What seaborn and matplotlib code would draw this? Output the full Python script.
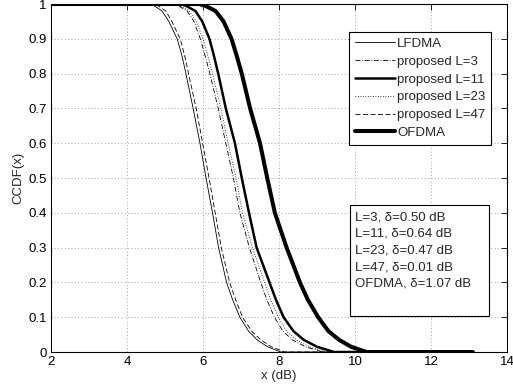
import numpy as np
import pandas as pd
import matplotlib
matplotlib.use("Agg")
import matplotlib.pyplot as plt
import seaborn as sns
from matplotlib.patches import Rectangle

ccdf = [1.0, 1.0, 0.995, 0.98, 0.95, 0.9, 0.85, 0.8, 0.7, 0.6, 0.5, 0.4, 0.3,
        0.2, 0.15, 0.1, 0.06, 0.035, 0.015, 0.0, 0.0]

lfdma  = [2.0, 4.60, 4.72, 4.92, 5.10, 5.32, 5.45, 5.55, 5.74, 5.92, 6.08, 6.25, 6.41,
          6.62, 6.78, 6.97, 7.20, 7.42, 7.70, 8.05, 13.1]
prop3  = [2.0, 5.20, 5.35, 5.58, 5.76, 5.93, 6.06, 6.18, 6.40, 6.60, 6.80, 6.97, 7.22,
          7.52, 7.68, 7.88, 8.10, 8.35, 8.70, 9.15, 13.1]
prop11 = [2.0, 5.40, 5.55, 5.80, 5.98, 6.17, 6.29, 6.40, 6.60, 6.84, 7.02, 7.21, 7.41,
          7.75, 7.92, 8.12, 8.38, 8.65, 9.00, 9.45, 13.1]
prop23 = [2.0, 5.25, 5.40, 5.64, 5.82, 6.00, 6.13, 6.25, 6.47, 6.66, 6.87, 7.04, 7.30,
          7.62, 7.78, 7.98, 8.20, 8.45, 8.80, 9.25, 13.1]
prop47 = [2.0, 4.70, 4.82, 5.02, 5.18, 5.40, 5.52, 5.62, 5.82, 5.99, 6.16, 6.32, 6.48,
          6.70, 6.86, 7.04, 7.28, 7.52, 7.80, 8.15, 13.1]
ofdma  = [2.0, 5.90, 6.06, 6.33, 6.54, 6.75, 6.89, 7.02, 7.24, 7.50, 7.69, 7.89, 8.20,
          8.55, 8.76, 9.03, 9.30, 9.58, 9.90, 10.3, 13.1]

labels = ['LFDMA', 'proposed L=3', 'proposed L=11', 'proposed L=23', 'proposed L=47', 'OFDMA']
series = [lfdma, prop3, prop11, prop23, prop47, ofdma]
styles = ['-', (0, (6, 2, 1, 2)), '-', (0, (1, 2)), (0, (6, 3)), '-']
widths = [0.6, 0.6, 1.8, 0.6, 0.6, 2.9]

notes = ['L=3, \u03b4=0.50 dB', 'L=11, \u03b4=0.64 dB', 'L=23, \u03b4=0.47 dB',
         'L=47, \u03b4=0.01 dB', 'OFDMA, \u03b4=1.07 dB']

sns.set_style('white')
plt.rcParams['font.family'] = ['Liberation Sans', 'DejaVu Sans']
fs = 9.5

fig = plt.figure(figsize=(5.13, 3.91), dpi=100)
ax = fig.add_axes([0.0994, 0.0997, 0.8890, 0.8900])

for lab, xs, ls, lw in zip(labels, series, styles, widths):
    df = pd.DataFrame({'x': xs, 'ccdf': ccdf})
    sns.lineplot(data=df, x='x', y='ccdf', sort=False, estimator=None, color='black',
                 linestyle=ls, linewidth=lw, label=lab, ax=ax)

ax.set_xlim(2, 14)
ax.set_ylim(0, 1)
ax.set_xticks(np.arange(2, 15, 2))
ax.set_yticks(np.arange(0, 1.01, 0.1))
ax.set_yticklabels(['0', '0.1', '0.2', '0.3', '0.4', '0.5', '0.6', '0.7', '0.8', '0.9', '1'])
ax.grid(True, linestyle=(0, (1, 3)), color='0.5', linewidth=0.6)
ax.tick_params(direction='in', length=4, width=0.6, top=True, right=True,
               labelsize=fs, pad=3, colors='black')
for s in ax.spines.values():
    s.set_color('black')
    s.set_linewidth(0.8)

ax.set_xlabel('x (dB)', fontsize=fs, labelpad=1)
ax.set_ylabel('CCDF(x)', fontsize=fs, labelpad=3)

leg = ax.legend(loc='upper right', bbox_to_anchor=(0.965, 0.92), fancybox=False,
                edgecolor='black', framealpha=1, fontsize=fs, handlelength=3.0,
                labelspacing=0.42, borderpad=0.45, handletextpad=0.15, borderaxespad=0)
leg.get_frame().set_linewidth(0.8)

ax.add_patch(Rectangle((0.656, 0.1034), 0.305, 0.319, transform=ax.transAxes,
                       facecolor='white', edgecolor='black', linewidth=0.8, zorder=5))
ax.text(0.667, 0.405, '\n'.join(notes), transform=ax.transAxes, va='top', ha='left',
        fontsize=fs, linespacing=1.52, zorder=6)

fig.savefig('out.png', dpi=100)
